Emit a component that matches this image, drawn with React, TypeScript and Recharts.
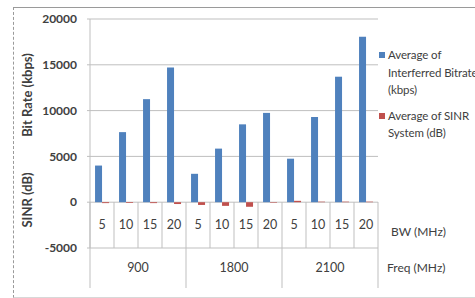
import React from 'react';
import { ComposedChart, Bar, XAxis, YAxis, CartesianGrid, Legend } from 'recharts';

const freqs = ['900', '900', '900', '900', '1800', '1800', '1800', '1800', '2100', '2100', '2100', '2100'];
const bws = ['5', '10', '15', '20', '5', '10', '15', '20', '5', '10', '15', '20'];
const bitrate = [4000, 7650, 11250, 14700, 3100, 5850, 8500, 9750, 4750, 9300, 13700, 18050];
const sinr = [-100, -100, -100, -200, -300, -400, -500, -60, 150, 60, 60, 60];
const yTicks = [-5000, 0, 5000, 10000, 15000, 20000];

const data = freqs.map((f, i) => ({
  cat: f + '|' + bws[i],
  freq: f,
  bw: bws[i],
  bitrate: bitrate[i],
  sinr: sinr[i],
}));

const groupSize = (i: number) => freqs.filter((f) => f === freqs[i]).length;
const isGroupStart = (i: number) => i === 0 || freqs[i] !== freqs[i - 1];

const LINE = '#bfbfbf';
const TEXT = '#404040';
const FONT = 'Lato, "Open Sans", sans-serif';
const BW_ROW = 46;
const FREQ_ROW = 40;

const CatTick = (props: any) => {
  const { x, y, payload, index, visibleTicksCount } = props;
  const half = payload && payload.offset ? payload.offset : 12;
  const [freq, bw] = String(payload.value).split('|');
  const top = y - BW_ROW;
  const start = isGroupStart(index);
  const last = index === visibleTicksCount - 1;
  const gCenter = x - half + groupSize(index) * half;
  return (
    <g>
      <line x1={x - half} x2={x - half} y1={top} y2={start ? y + FREQ_ROW : y} stroke={LINE} />
      {last && <line x1={x + half} x2={x + half} y1={top} y2={y + FREQ_ROW} stroke={LINE} />}
      <text x={x} y={top + BW_ROW / 2 + 4} textAnchor="middle" fill={TEXT} fontSize={12.5} fontFamily={FONT}>
        {bw}
      </text>
      {start && (
        <text x={gCenter} y={y + FREQ_ROW / 2 + 4} textAnchor="middle" fill={TEXT} fontSize={12.5} fontFamily={FONT}>
          {freq}
        </text>
      )}
    </g>
  );
};

const LegendContent = (props: any) => {
  const { payload } = props;
  return (
    <div style={{ fontFamily: FONT, fontSize: 11.5, color: TEXT, lineHeight: '17.5px', textAlign: 'left', letterSpacing: -0.1 }}>
      {(payload || []).map((p: any, i: number) => (
        <div key={i} style={{ position: 'relative', paddingLeft: 9, marginBottom: i === 0 ? 8 : 0, whiteSpace: 'pre' }}>
          <span
            style={{
              position: 'absolute',
              left: 0,
              top: 6,
              width: 6,
              height: 6,
              background: p.color,
            }}
          />
          {p.value}
        </div>
      ))}
    </div>
  );
};

export default function App() {
  return (
    <div
      style={{
        position: 'absolute',
        left: 0,
        top: 0,
        width: 475,
        height: 298,
        overflow: 'hidden',
        background: '#fff',
      }}
    >
      <div
        style={{
          position: 'absolute',
          left: 13,
          top: 7,
          width: 480,
          height: 289,
          borderTop: '1px solid #9a9a9a',
          borderLeft: '1px dashed #9a9a9a',
          borderBottom: '1px solid #d8d8d8',
        }}
      />
      <svg width={60} height={298} style={{ position: 'absolute', left: 0, top: 0 }}>
        <text
          x={27}
          y={95}
          transform="rotate(-90, 27, 95)"
          textAnchor="middle"
          dominantBaseline="central"
          fill={TEXT}
          fontSize={13}
          fontWeight={700}
          fontFamily={FONT}
        >
          Bit Rate (kbps)
        </text>
        <text
          x={27}
          y={200}
          transform="rotate(-90, 27, 200)"
          textAnchor="middle"
          dominantBaseline="central"
          fill={TEXT}
          fontSize={13}
          fontWeight={700}
          fontFamily={FONT}
        >
          SINR (dB)
        </text>
      </svg>
      <div style={{ position: 'absolute', left: 391, top: 224, fontFamily: FONT, fontSize: 12, color: TEXT }}>
        BW (MHz)
      </div>
      <div style={{ position: 'absolute', left: 387, top: 260, fontFamily: FONT, fontSize: 12, color: TEXT }}>
        Freq (MHz)
      </div>
      <ComposedChart
        width={475}
        height={298}
        data={data}
        margin={{ top: 19, right: 97, bottom: 10, left: 0 }}
        barCategoryGap="21%"
        barGap={0}
        style={{ position: 'absolute', left: 0, top: 0 }}
      >
        <CartesianGrid vertical={false} stroke={LINE} />
        <XAxis
          dataKey="cat"
          interval={0}
          tickLine={false}
          axisLine={false}
          tickSize={0}
          tickMargin={0}
          height={40}
          tick={<CatTick />}
        />
        <YAxis
          domain={[-5000, 20000]}
          ticks={yTicks}
          interval={0}
          width={90}
          tickSize={3}
          tickMargin={10}
          stroke={LINE}
          tick={{ fill: TEXT, fontSize: 12, fontWeight: 700, fontFamily: FONT }}
        />
        <Legend
          layout="horizontal"
          verticalAlign="middle"
          align="center"
          wrapperStyle={{ left: 379, top: 46, width: 130 }}
          content={<LegendContent />}
        />
        <Bar dataKey="bitrate" name={'Average of\nInterferred Bitrate\n(kbps)'} fill="#4f81bd" isAnimationActive={false} />
        <Bar dataKey="sinr" name={'Average of SINR\nSystem (dB)'} fill="#c0504d" isAnimationActive={false} />
      </ComposedChart>
    </div>
  );
}
